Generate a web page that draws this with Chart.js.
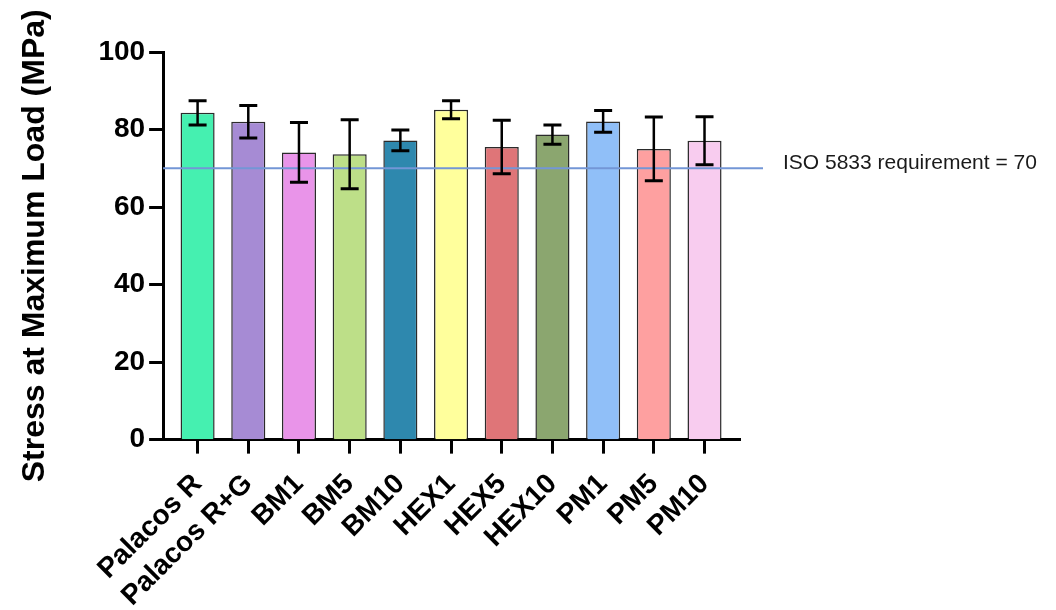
<!DOCTYPE html>
<html>
<head>
<meta charset="utf-8">
<script src="https://cdn.jsdelivr.net/npm/chart.js@4.4.1/dist/chart.umd.min.js"></script>
<style>
  html, body { margin: 0; padding: 0; background: #ffffff; }
  #wrap { width: 1056px; height: 610px; position: relative; }
</style>
</head>
<body>
<div id="wrap"><canvas id="c" width="1056" height="610"></canvas></div>
<script>
// Flexural stress per bone-cement formulation (mean and SD, MPa)
const categories = ['Palacos R', 'Palacos R+G', 'BM1', 'BM5', 'BM10', 'HEX1', 'HEX5', 'HEX10', 'PM1', 'PM5', 'PM10'];
const meanStress = [84.3, 82.0, 74.1, 73.6, 77.2, 85.1, 75.5, 78.7, 82.1, 75.0, 77.1];
const sdStress   = [3.1, 4.2, 7.7, 8.9, 2.7, 2.3, 6.9, 2.5, 2.8, 8.2, 6.2];
const barColors  = ['#45F0B0', '#A68BD4', '#E994E9', '#BDDF88', '#2E88AE', '#FFFF9C',
                    '#DF7578', '#8BA66F', '#90BFF8', '#FEA0A0', '#F8CCEF'];
const yTicks = [0, 20, 40, 60, 80, 100];
const isoRequirement = 70;
const isoLabel = 'ISO 5833 requirement = 70';
const yTitle = 'Stress at Maximum Load (MPa)';

const FONT = "'Liberation Sans', Arial, Helvetica, sans-serif";

// Horizontal requirement line with its caption to the right of the plot
const isoLinePlugin = {
  id: 'isoLine',
  afterDatasetsDraw(chart) {
    const { ctx, chartArea } = chart;
    const y = chart.scales.y.getPixelForValue(isoRequirement);
    ctx.save();
    ctx.strokeStyle = '#7396D6';
    ctx.lineWidth = 2;
    ctx.beginPath();
    ctx.moveTo(chartArea.left, y);
    ctx.lineTo(chartArea.right + 23, y);
    ctx.stroke();
    ctx.fillStyle = '#1a1a1a';
    ctx.font = '21px ' + FONT;
    ctx.textBaseline = 'middle';
    ctx.textAlign = 'left';
    ctx.fillText(isoLabel, chartArea.right + 43, y - 5);
    ctx.restore();
  }
};

// Mean ± SD whiskers with caps, drawn over each bar
const errorBarPlugin = {
  id: 'errorBars',
  afterDatasetsDraw(chart) {
    const { ctx } = chart;
    const yScale = chart.scales.y;
    const meta = chart.getDatasetMeta(0);
    ctx.save();
    ctx.strokeStyle = '#000000';
    meta.data.forEach((bar, i) => {
      const x = bar.x;
      const top = yScale.getPixelForValue(meanStress[i] + sdStress[i]);
      const bot = yScale.getPixelForValue(meanStress[i] - sdStress[i]);
      ctx.lineWidth = 2.5;
      ctx.beginPath();
      ctx.moveTo(x, top);
      ctx.lineTo(x, bot);
      ctx.stroke();
      ctx.lineWidth = 3;
      ctx.beginPath();
      ctx.moveTo(x - 9, top);
      ctx.lineTo(x + 9, top);
      ctx.moveTo(x - 9, bot);
      ctx.lineTo(x + 9, bot);
      ctx.stroke();
    });
    ctx.restore();
  }
};

new Chart(document.getElementById('c'), {
  type: 'bar',
  data: {
    datasets: [{
      data: meanStress.map((v, i) => ({ x: i, y: v })),
      backgroundColor: barColors,
      borderColor: 'rgba(20,20,20,0.9)',
      borderWidth: 1.5,
      barPercentage: 0.84,
      categoryPercentage: 0.8
    }]
  },
  options: {
    responsive: false,
    devicePixelRatio: 1,
    animation: false,
    layout: { padding: { left: 10, right: 316, top: 52, bottom: -17 } },
    plugins: {
      legend: { display: false },
      tooltip: { enabled: false }
    },
    scales: {
      x: {
        type: 'linear',
        min: -0.68,
        max: 10.7,
        offset: false,
        afterBuildTicks(scale) {
          scale.ticks = categories.map((_, i) => ({ value: i }));
        },
        ticks: {
          autoSkip: false,
          maxRotation: 45,
          minRotation: 45,
          padding: 14,
          color: '#000000',
          font: { family: FONT, size: 28, weight: 'bold' },
          callback: (v) => categories[v]
        },
        grid: {
          offset: false,
          drawOnChartArea: false,
          drawTicks: true,
          tickLength: 14,
          tickWidth: 3,
          tickColor: '#000000'
        },
        border: { display: true, color: '#000000', width: 3 }
      },
      y: {
        min: 0,
        max: 100,
        afterBuildTicks(scale) {
          scale.ticks = yTicks.map(v => ({ value: v }));
        },
        ticks: {
          padding: 4,
          color: '#000000',
          font: { family: FONT, size: 28, weight: 'bold' }
        },
        grid: {
          drawOnChartArea: false,
          drawTicks: true,
          tickLength: 14,
          tickWidth: 3,
          tickColor: '#000000'
        },
        border: { display: true, color: '#000000', width: 3 },
        title: {
          display: true,
          text: yTitle,
          color: '#000000',
          font: { family: FONT, size: 32, weight: 'bold' },
          padding: { top: 6, bottom: 40 }
        }
      }
    }
  },
  plugins: [isoLinePlugin, errorBarPlugin]
});
</script>
</body>
</html>
